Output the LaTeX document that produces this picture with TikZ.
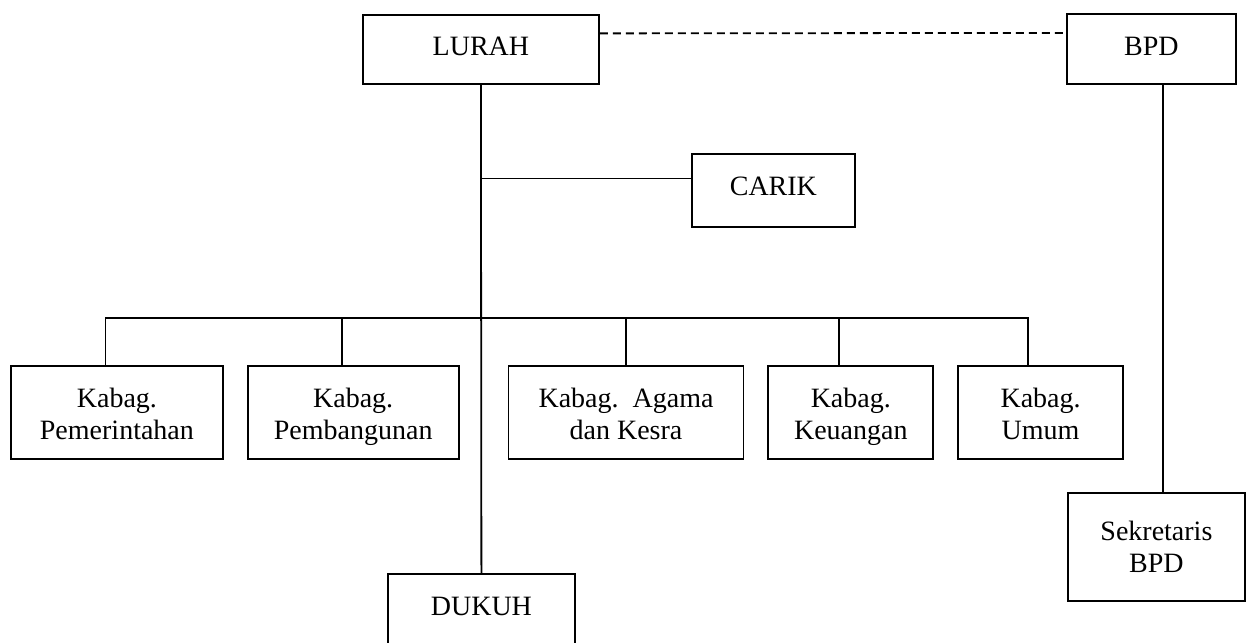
\documentclass[tikz,border=0pt]{standalone}
\usepackage{fontspec}
\setmainfont{Liberation Serif}
\usepackage{tikz}
\usetikzlibrary{positioning,calc}

\begin{document}
\begin{tikzpicture}[
  x=1pt, y=-1pt,
  font=\fontsize{28pt}{32pt}\selectfont,
  box/.style={draw, line width=1.8pt, inner sep=0pt, anchor=north west,
              text height=42pt, text depth=28pt},
  kbox/.style={box, align=center, text height=74pt, text depth=19pt},
  link/.style={line width=1.8pt},
  dlink/.style={link, dash pattern=on 8pt off 5pt}]
\useasboundingbox (0,0) rectangle (1246,642);
% ---- top row ----
\node[box, minimum width=236pt, text height=41pt] (lurah) at (362,14) {LURAH};
\node[box, minimum width=169pt] (bpd) at (1066,13) {BPD};
\node[box, minimum width=163pt, text depth=31pt] (carik) at (691,153) {CARIK};
\draw[dlink] ([yshift=16pt]lurah.east) -- ([yshift=16pt]bpd.west);
% ---- kabag row ----
\coordinate (bus) at (0,318);
\node[kbox, minimum width=212pt] (kpem) at (10,365) {Kabag.\\Pemerintahan};
\node[kbox, minimum width=211pt, right=23pt of kpem] (kbang) {Kabag.\\Pembangunan};
\node[kbox, minimum width=235pt, right=48pt of kbang] (kagama) {Kabag.\ \ Agama\\dan Kesra};
\node[kbox, minimum width=165pt, right=23pt of kagama] (kuang) {Kabag.\\Keuangan};
\node[kbox, minimum width=165pt, right=23pt of kuang] (kumum) {Kabag.\\Umum};
% ---- bottom ----
\node[box, minimum width=187pt, text depth=33pt] (dukuh) at (387,573) {DUKUH};
\node[box, minimum width=177pt, align=center, text height=80pt, text depth=28pt]
  (sek) at (1067,492) {Sekretaris\\BPD};
% ---- connectors ----
\draw[link] (lurah.south) -- (dukuh.north);
\draw[link] ([yshift=12pt]carik.west) -- ([yshift=12pt]carik.west -| lurah.south);
\draw[link] ([xshift=-11.5pt]kpem.north) -- ([xshift=-11.5pt]kpem.north |- bus)
  -- ([xshift=-12.5pt]kumum.north |- bus) -- ([xshift=-12.5pt]kumum.north);
\foreach \n/\s in {kbang/-11.5pt, kagama/0pt, kuang/-11.5pt}
  \draw[link] ([xshift=\s]\n.north) -- ([xshift=\s]\n.north |- bus);
\draw[link] ([xshift=11.5pt]bpd.south) -- ([xshift=11.5pt]bpd.south |- sek.north);
\end{tikzpicture}
\end{document}
